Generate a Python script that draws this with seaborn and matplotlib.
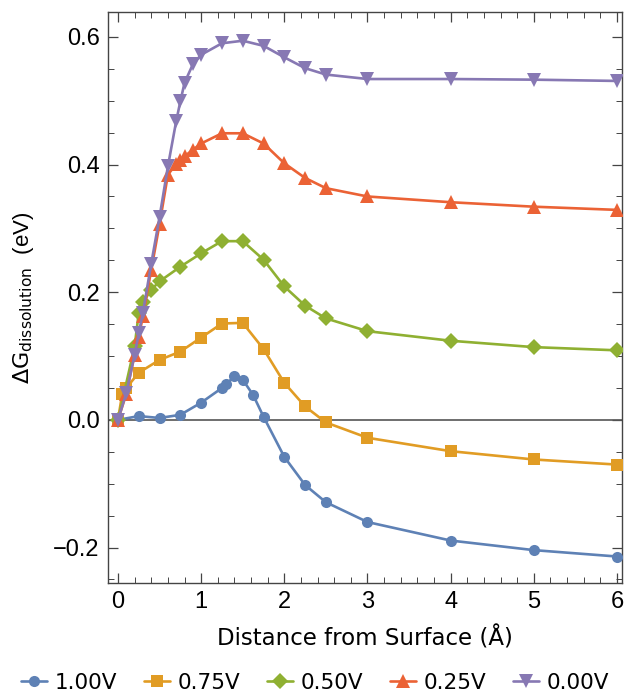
import numpy as np
import pandas as pd
import matplotlib
matplotlib.use("Agg")
import matplotlib.pyplot as plt
import seaborn as sns
from matplotlib.ticker import MultipleLocator

# ---- data ----
x_100 = [0, 0.25, 0.5, 0.75, 1.0, 1.25, 1.3, 1.4, 1.5, 1.625, 1.75, 2.0, 2.25, 2.5, 3, 4, 5, 6]
y_100 = [0, 0.006, 0.003, 0.008, 0.027, 0.050, 0.056, 0.068, 0.063, 0.039, 0.005, -0.058, -0.102, -0.129, -0.160, -0.189, -0.204, -0.214]

x_075 = [0, 0.05, 0.1, 0.25, 0.5, 0.75, 1.0, 1.25, 1.5, 1.75, 2.0, 2.25, 2.5, 3, 4, 5, 6]
y_075 = [0, 0.040, 0.050, 0.074, 0.094, 0.107, 0.129, 0.151, 0.152, 0.111, 0.058, 0.021, -0.004, -0.028, -0.049, -0.062, -0.070]

x_050 = [0, 0.2, 0.25, 0.3, 0.4, 0.5, 0.75, 1.0, 1.25, 1.5, 1.75, 2.0, 2.25, 2.5, 3, 4, 5, 6]
y_050 = [0, 0.115, 0.168, 0.184, 0.204, 0.217, 0.240, 0.261, 0.280, 0.280, 0.251, 0.209, 0.179, 0.159, 0.139, 0.124, 0.114, 0.109]

x_025 = [0, 0.1, 0.2, 0.25, 0.3, 0.4, 0.5, 0.6, 0.7, 0.75, 0.8, 0.9, 1.0, 1.25, 1.5, 1.75, 2.0, 2.25, 2.5, 3, 4, 5, 6]
y_025 = [0, 0.041, 0.102, 0.130, 0.163, 0.235, 0.307, 0.384, 0.401, 0.407, 0.413, 0.423, 0.433, 0.449, 0.449, 0.433, 0.402, 0.379, 0.363, 0.350, 0.341, 0.334, 0.329]

x_000 = [0, 0.1, 0.2, 0.25, 0.3, 0.4, 0.5, 0.6, 0.7, 0.75, 0.8, 0.9, 1.0, 1.25, 1.5, 1.75, 2.0, 2.25, 2.5, 3, 4, 5, 6]
y_000 = [0, 0.042, 0.102, 0.136, 0.168, 0.245, 0.318, 0.397, 0.468, 0.499, 0.528, 0.557, 0.572, 0.590, 0.594, 0.586, 0.568, 0.551, 0.541, 0.534, 0.534, 0.533, 0.531]

labels = ["1.00V", "0.75V", "0.50V", "0.25V", "0.00V"]
colors = ["#5E81B5", "#E19C24", "#8FB032", "#EB6235", "#8778B3"]
markers = ["o", "s", "D", "^", "v"]
msizes = [8, 8, 8, 9.5, 9.5]

series = [(x_100, y_100), (x_075, y_075), (x_050, y_050), (x_025, y_025), (x_000, y_000)]
rows = []
for lab, (xs, ys) in zip(labels, series):
    for a, b in zip(xs, ys):
        rows.append({"x": a, "y": b, "series": lab})
df = pd.DataFrame(rows)

sns.set_theme(style="white")
plt.rcParams["font.family"] = ["Liberation Sans", "DejaVu Sans"]
plt.rcParams["mathtext.fontset"] = "dejavusans"

fig = plt.figure(figsize=(6.24, 6.98), dpi=100)
ax = fig.add_axes([108 / 624, 1 - 583 / 698, (622 - 108) / 624, (583 - 12) / 698])

ax.axhline(0, color="#555555", lw=1.2, zorder=1)

for lab, col, mk, ms in zip(labels, colors, markers, msizes):
    sub = df[df["series"] == lab]
    sns.lineplot(data=sub, x="x", y="y", ax=ax, color=col, marker=mk,
                 markersize=ms, markeredgewidth=0, lw=1.9, sort=False,
                 estimator=None, label=lab, zorder=3)

ax.set_xlim(-0.12, 6.06)
ax.set_ylim(-0.2555, 0.639)
ax.xaxis.set_major_locator(MultipleLocator(1))
ax.xaxis.set_minor_locator(MultipleLocator(0.2))
ax.yaxis.set_major_locator(MultipleLocator(0.2))
ax.yaxis.set_minor_locator(MultipleLocator(0.05))
ax.yaxis.set_major_formatter(matplotlib.ticker.FuncFormatter(
    lambda v, p: ("\u22120.%d" % round(abs(v) * 10)) if v < -1e-9 else "%.1f" % abs(v)))

ax.tick_params(which="both", direction="in", top=True, right=True,
               bottom=True, left=True, color="#444444", labelcolor="black")
ax.tick_params(which="major", length=7, width=0.9, labelsize=17, pad=6)
ax.tick_params(which="minor", length=4, width=0.7)
for s in ax.spines.values():
    s.set_color("#444444")
    s.set_linewidth(1.0)

ax.set_xlabel("Distance from Surface (Å)", fontsize=16.5, family="DejaVu Sans",
              labelpad=9, color="black")
ax.set_ylabel(r"$\Delta\mathrm{G}_{\mathrm{dissolution}}$  (eV)", fontsize=16,
              labelpad=12, color="black")

handles, labs = ax.get_legend_handles_labels()
ax.get_legend().remove()
fig.legend(handles, labs, loc="lower center", ncol=5, frameon=False,
           bbox_to_anchor=(0.505, -0.02), handlelength=1.2,
           handletextpad=0.35, columnspacing=1.25, labelcolor="black",
           prop={"family": "DejaVu Sans", "size": 15.5})

fig.savefig("out.png", dpi=100)
